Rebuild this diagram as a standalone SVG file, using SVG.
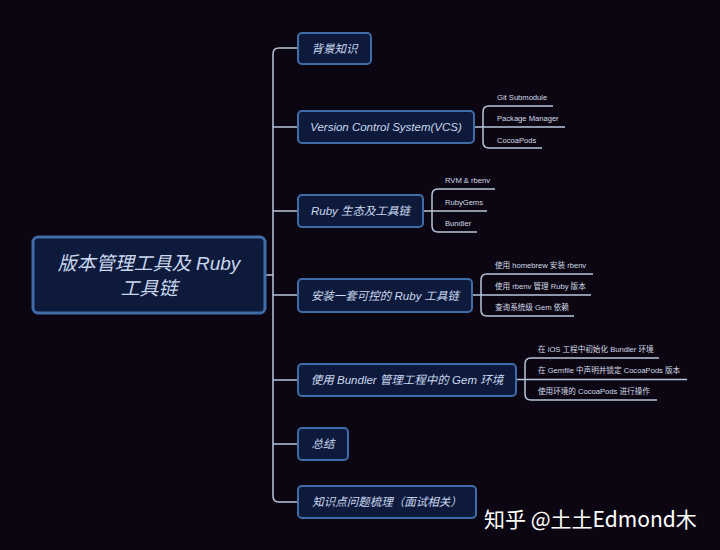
<svg xmlns="http://www.w3.org/2000/svg" width="720" height="550" viewBox="0 0 720 550">
<style>
.node rect{fill:#0e1a3b;stroke:#3f6da7;stroke-width:2}
.node text{fill:#c9d8ef;font-family:"Liberation Sans","Noto Sans CJK SC",sans-serif;font-style:italic;font-size:11.5px;text-anchor:middle}
.root rect{stroke-width:3}
.root text{font-size:19px}
.conn path{fill:none;stroke:#b9c6dc;stroke-width:1.5}
.leaf{fill:#d4dbe8;font-family:"Liberation Sans","Noto Sans CJK SC",sans-serif;font-size:7.6px}
.wm{fill:#ffffff;font-family:"Noto Sans CJK SC","Noto Sans",sans-serif;font-size:21px}
</style>
<rect width="720" height="550" fill="#0b0612"/>
<g id="connectors" class="conn">
<path d="M265 275 H273"/>
<path d="M298 48 H279 Q273 48 273 54 V496 Q273 502 279 502 H298"/>
<path d="M273 127 H298 M273 211 H298 M273 295 H298 M273 380 H298 M273 444 H298"/>
<path d="M474 127 H565 M553 106 H489 Q483 106 483 112 V142 Q483 148 489 148 H542"/>
<path d="M423 211 H487 M495 189 H438 Q432 189 432 195 V226 Q432 232 438 232 H477"/>
<path d="M472 295 H591 M593 274 H487 Q481 274 481 280 V310 Q481 316 487 316 H574"/>
<path d="M516 379.5 H687 M659 358 H531 Q525 358 525 364 V394 Q525 400 531 400 H657"/>
</g>
<g id="root" class="node root">
<rect x="33" y="237" width="232" height="76" rx="5"/>
<text x="149" y="270">版本管理工具及 Ruby</text>
<text x="149" y="295">工具链</text>
</g>
<g id="n1" class="node"><rect x="298" y="33" width="73" height="31" rx="4"/><text x="334.5" y="52.5">背景知识</text></g>
<g id="n2" class="node"><rect x="298" y="111" width="176" height="32" rx="4"/><text x="386" y="131">Version Control System(VCS)</text></g>
<g id="n3" class="node"><rect x="298" y="195" width="125" height="32" rx="4"/><text x="360.5" y="215">Ruby 生态及工具链</text></g>
<g id="n4" class="node"><rect x="298" y="279" width="174" height="33" rx="4"/><text x="385" y="299.5">安装一套可控的 Ruby 工具链</text></g>
<g id="n5" class="node"><rect x="298" y="364" width="218" height="32" rx="4"/><text x="407" y="384">使用 Bundler 管理工程中的 Gem 环境</text></g>
<g id="n6" class="node"><rect x="298" y="428" width="50" height="32" rx="4"/><text x="323" y="448">总结</text></g>
<g id="n7" class="node"><rect x="298" y="486" width="178" height="32" rx="4"/><text x="387" y="506">知识点问题梳理（面试相关）</text></g>
<g id="leaves">
<text class="leaf" x="497" y="100">Git Submodule</text>
<text class="leaf" x="497" y="121">Package Manager</text>
<text class="leaf" x="497" y="143">CocoaPods</text>
<text class="leaf" x="445" y="183">RVM &amp; rbenv</text>
<text class="leaf" x="445" y="205">RubyGems</text>
<text class="leaf" x="445" y="226">Bundler</text>
<text class="leaf" x="495" y="268">使用 homebrew 安装 rbenv</text>
<text class="leaf" x="495" y="289">使用 rbenv 管理 Ruby 版本</text>
<text class="leaf" x="495" y="310">查询系统级 Gem 依赖</text>
<text class="leaf" x="538" y="352">在 iOS 工程中初始化 Bundler 环境</text>
<text class="leaf" x="538" y="373">在 Gemfile 中声明并锁定 CocoaPods 版本</text>
<text class="leaf" x="538" y="394">使用环境的 CocoaPods 进行操作</text>
</g>
<text class="wm" x="484" y="527">知乎 @土土Edmond木</text>
</svg>
